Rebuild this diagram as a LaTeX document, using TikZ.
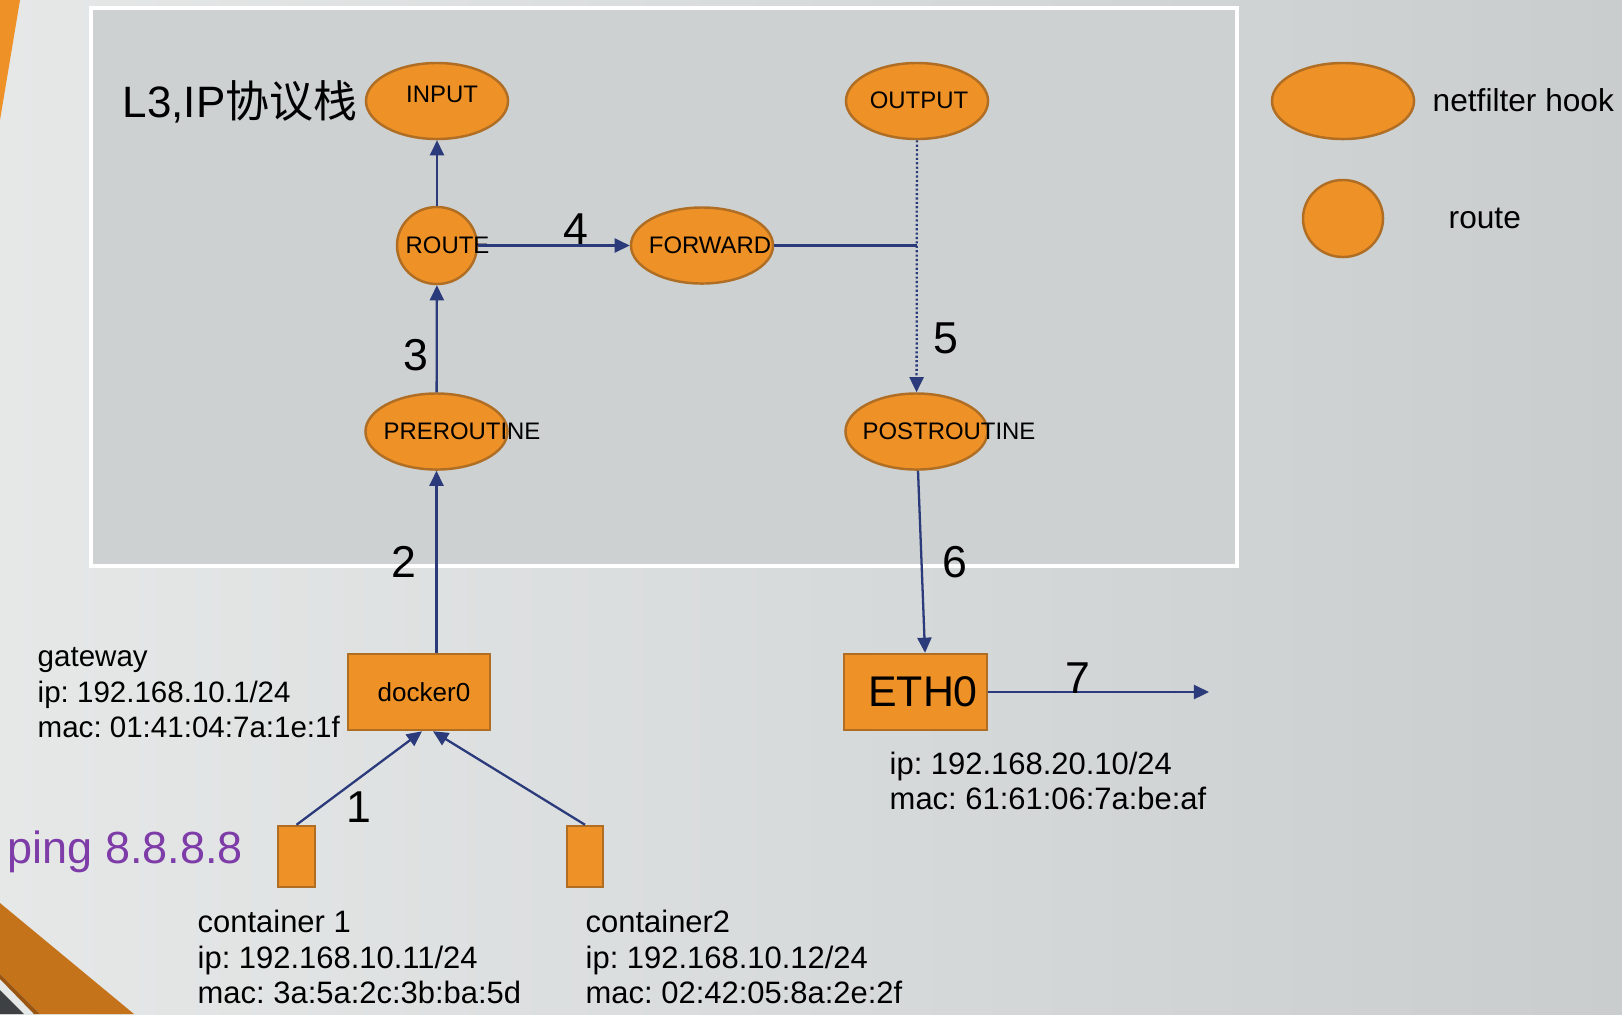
\documentclass[tikz,border=0pt]{standalone}
\usepackage{fontspec}
\setmainfont{Liberation Sans}
\newfontfamily\cjk{Noto Sans CJK SC}
\usetikzlibrary{shapes.geometric,arrows.meta}
\definecolor{hookfill}{HTML}{EE9127}
\definecolor{hookdraw}{HTML}{B06E25}
\definecolor{navy}{HTML}{2B3A7A}
\definecolor{boxgray}{HTML}{CDD1D2}
\definecolor{bgA}{HTML}{E6E8E8}
\definecolor{bgB}{HTML}{C9CDCE}
\definecolor{pingc}{HTML}{7E3CA8}
\definecolor{stripeA}{HTML}{EE9126}
\definecolor{stripeB}{HTML}{C4731A}
\definecolor{stripeE}{HTML}{9A5510}
\definecolor{cornerD}{HTML}{3E4143}
\frenchspacing
\begin{document}
\begin{tikzpicture}[x=0.01cm,y=-0.01cm,
  hook/.style={ellipse, draw=hookdraw, fill=hookfill, line width=0.7pt, minimum width=1.42cm, minimum height=0.76cm, inner sep=0pt},
  routec/.style={ellipse, draw=hookdraw, fill=hookfill, line width=0.7pt, minimum width=0.8cm, minimum height=0.77cm, inner sep=0pt},
  dev/.style={rectangle, draw=hookdraw, fill=hookfill, line width=0.7pt, inner sep=0pt},
  hooklbl/.style={font=\fontsize{6.8}{8}\selectfont, inner sep=0pt},
  num/.style={font=\fontsize{12.7}{15}\selectfont, inner sep=0pt},
  info/.style={font=\fontsize{8.8}{10.1}\selectfont, align=left, anchor=base west, inner sep=0pt},
  conn/.style={draw=navy, line width=0.65pt, -{Triangle[length=4.3pt,width=4pt]}},
  plain/.style={draw=navy, line width=0.65pt},
]
\useasboundingbox (0,0) rectangle (1622,1014);
% background
\shade[left color=bgA, right color=bgB] (0,0) rectangle (1622,1014);
\fill[stripeA] (0,0) -- (20,0) -- (0,120) -- cycle;
\fill[stripeB] (0,903) -- (134,1014) -- (40,1014) -- (0,974) -- cycle;
\fill[stripeE] (0,974) -- (40,1014) -- (34,1014) -- (0,979) -- cycle;
\fill[cornerD] (0,990) -- (24,1014) -- (0,1014) -- cycle;
% stack frame
\draw[white, line width=0.9pt, fill=boxgray] (91,8) rectangle (1237,566);
\node[font=\fontsize{12.5}{15}\selectfont, anchor=base west, inner sep=0pt] (title) at (122,117) {L3,IP{\cjk 协议栈}};

% hooks
\node[hook] (input) at (437,101) {};
\node[hooklbl] (inputL) at (442,94) {INPUT};
\node[hook] (output) at (917,101) {};
\node[hooklbl] (outputL) at (919,100) {OUTPUT};
\node[routec] (route) at (437,245.5) {};
\node[hooklbl] (routeL) at (447.5,245) {ROUTE};
\node[hook] (forward) at (702,245.5) {};
\node[hooklbl] (forwardL) at (710,245) {FORWARD};
\node[hook] (pre) at (436.5,431.5) {};
\node[hooklbl] (preL) at (462,431) {PREROUTINE};
\node[hook] (post) at (916.5,431.5) {};
\node[hooklbl] (postL) at (949,431) {POSTROUTINE};

% devices
\node[dev, minimum width=1.42cm, minimum height=0.76cm] (docker) at (419,692) {};
\node[font=\fontsize{7.4}{9}\selectfont, inner sep=0pt] (dockerL) at (424,692) {docker0};
\node[dev, minimum width=1.43cm, minimum height=0.76cm] (eth0) at (915.5,692) {};
\node[font=\fontsize{12.2}{14}\selectfont, inner sep=0pt] (eth0L) at (923,692) {ETH0};
\node[dev, minimum width=0.37cm, minimum height=0.61cm] (c1) at (296.5,856.5) {};
\node[dev, minimum width=0.36cm, minimum height=0.61cm] (c2) at (585,856.5) {};

% connectors
\draw[conn] (route) -- (input);
\draw[conn] (route) -- (forward);
\draw[conn] (pre) -- (route);
\draw[conn] (docker.north -| pre.center) -- (pre);
\coordinate (junc) at (917,245.5);
\draw[plain] (forward) -- (junc);
\draw[conn, dash pattern=on 0.6pt off 0.65pt] (output) -- (post);
\draw[conn] (post) -- ([xshift=0.095cm]eth0.north);
\draw[conn] (c1.north) -- ([xshift=0.03cm]docker.south);
\draw[conn] (c2.north) -- ([xshift=0.14cm]docker.south);
\coordinate (ext) at (1209,692);
\draw[conn] (eth0) -- (ext);

% step numbers
\node[num] (n1) at (359,807) {1};
\node[num] (n2) at (404,562) {2};
\node[num] (n3) at (416,355) {3};
\node[num] (n4) at (576,229) {4};
\node[num] (n5) at (946,338) {5};
\node[num] (n6) at (955,562) {6};
\node[num] (n7) at (1078,678) {7};

% info texts (anchored at the baseline of the last line)
\node[info, font=\fontsize{8.4}{10.1}\selectfont] (gw) at (37,737.5) {gateway\\ip: 192.168.10.1/24\\mac: 01:41:04:7a:1e:1f};
\node[info] (c1info) at (197,1003.5) {container 1\\ip: 192.168.10.11/24\\mac: 3a:5a:2c:3b:ba:5d};
\node[info] (c2info) at (585,1003.5) {container2\\ip: 192.168.10.12/24\\mac: 02:42:05:8a:2e:2f};
\node[info] (ethinfo) at (889,809.5) {ip: 192.168.20.10/24\\mac: 61:61:06:7a:be:af};
\node[font=\fontsize{12.8}{15}\selectfont, text=pingc, anchor=base west, inner sep=0pt] (ping) at (7,863) {ping 8.8.8.8};

% legend
\node[hook] (lhook) at (1343,101) {};
\node[routec] (lroute) at (1343,218.5) {};
\node[font=\fontsize{9}{11}\selectfont, anchor=base west, inner sep=0pt] (lhookL) at (1432,111) {netfilter hook};
\node[font=\fontsize{9}{11}\selectfont, anchor=base west, inner sep=0pt] (lrouteL) at (1448,228) {route};
\end{tikzpicture}
\end{document}
